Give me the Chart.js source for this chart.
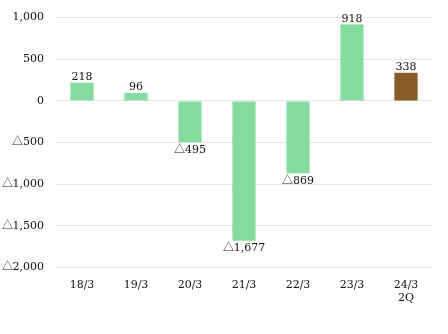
<!DOCTYPE html>
<html>
<head>
<meta charset="utf-8">
<script src="https://cdn.jsdelivr.net/npm/chart.js@4"></script>
<style>
  @font-face { font-family: "Tri"; src: local("Noto Sans CJK JP"), local("NotoSansCJKjp-Regular"); unicode-range: U+25B3; }
  html, body { margin: 0; padding: 0; background: #fff; }
  #wrap { width: 448px; height: 334px; position: relative; }
</style>
</head>
<body>
<div id="wrap"><canvas id="chart"></canvas></div>
<script>
const labels = [["18/3"], ["19/3"], ["20/3"], ["21/3"], ["22/3"], ["23/3"], ["24/3", "2Q"]];
const values = [218, 96, -495, -1677, -869, 918, 338];
const barColors = ["#84dc9e", "#84dc9e", "#84dc9e", "#84dc9e", "#84dc9e", "#84dc9e", "#875e26"];
const yTicks = [1000, 500, 0, -500, -1000, -1500, -2000];

// △ だけ CJK フォントで描く
const FONT = "Tri, 'DejaVu Serif', serif";

// 負の値は △ 表記
function fmt(v) {
  const s = Math.abs(v).toLocaleString("en-US");
  return v < 0 ? "△" + s : s;
}

const valueLabels = {
  id: "valueLabels",
  afterDatasetsDraw(chart) {
    const ctx = chart.ctx;
    const meta = chart.getDatasetMeta(0);
    ctx.save();
    ctx.font = "11px " + FONT;
    ctx.fillStyle = "#111";
    ctx.textAlign = "center";
    meta.data.forEach((bar, i) => {
      const v = values[i];
      if (v >= 0) {
        ctx.textBaseline = "bottom";
        ctx.fillText(fmt(v), bar.x, bar.y);
      } else {
        ctx.textBaseline = "top";
        ctx.fillText(fmt(v), bar.x, bar.y + 2);
      }
    });
    ctx.restore();
  }
};

function draw() {
  new Chart(document.getElementById("chart"), {
    type: "bar",
    data: {
      labels,
      datasets: [{ data: values, backgroundColor: barColors, borderWidth: 0, barPercentage: 0.43, categoryPercentage: 1 }]
    },
    options: {
      responsive: true,
      maintainAspectRatio: false,
      animation: false,
      layout: { padding: { top: 10, right: 15, bottom: 18, left: 0 } },
      plugins: { legend: { display: false }, tooltip: { enabled: false } },
      scales: {
        x: {
          grid: { display: false, drawTicks: false },
          border: { display: false },
          ticks: { color: "#111", font: { family: FONT, size: 11, lineHeight: 1.2 }, padding: 11, maxRotation: 0 }
        },
        y: {
          min: -2000, max: 1000,
          afterBuildTicks(axis) { axis.ticks = yTicks.map(v => ({ value: v })); },
          afterFit(axis) { axis.width = 55; },
          grid: { color: "#e6e6e6", drawTicks: false },
          border: { display: false },
          ticks: { color: "#111", font: { family: FONT, size: 11 }, padding: 11, callback: (v) => fmt(v) }
        }
      }
    },
    plugins: [valueLabels]
  });
}

if (document.fonts && document.fonts.load) {
  document.fonts.load("11px Tri", "△").then(draw, draw);
} else {
  draw();
}
</script>
</body>
</html>
